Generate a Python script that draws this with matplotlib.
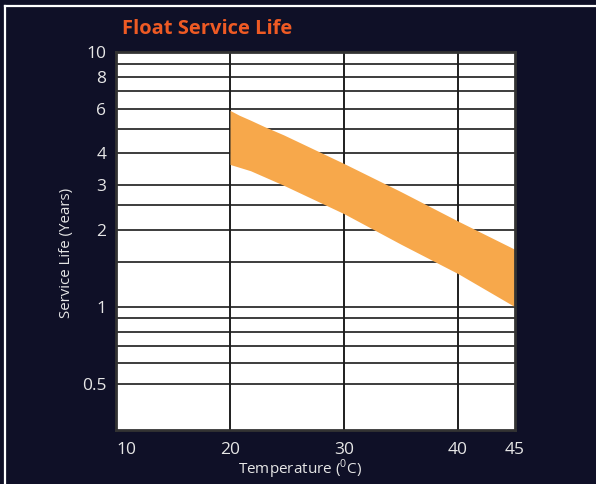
import matplotlib
matplotlib.use("Agg")
import matplotlib.pyplot as plt
from matplotlib.lines import Line2D

# Data
temps = [20, 20.8, 21.8, 23.0, 24.7, 30, 35, 40, 45]
life_upper = [5.9, 5.65, 5.4, 5.1, 4.73, 3.65, 2.83, 2.17, 1.68]
life_lower = [3.62, 3.53, 3.42, 3.24, 3.0, 2.32, 1.76, 1.35, 1.0]

x_ticks = [10, 20, 30, 40, 45]
x_tick_labels = ["10", "20", "30", "40", "45"]
y_ticks = [0.5, 1, 2, 3, 4, 6, 8, 10]
y_tick_labels = ["0.5", "1", "2", "3", "4", "6", "8", "10"]
y_grid = [0.5, 0.6, 0.7, 0.8, 0.9, 1, 1.5, 2, 2.5, 3, 4, 5, 6, 7, 8, 9, 10]
x_grid = [20, 30, 40]

plt.rcParams['font.family'] = ['Open Sans', 'DejaVu Sans']
plt.rcParams['mathtext.fontset'] = 'custom'
plt.rcParams['mathtext.rm'] = 'Open Sans'

BG = '#0f1027'
fig = plt.figure(figsize=(5.96, 4.84), dpi=100, facecolor=BG)

# white frame lines (top and left)
fig.add_artist(Line2D([5/596, 1.0], [1 - 6/484, 1 - 6/484], color='white', lw=1.6,
                      transform=fig.transFigure))
fig.add_artist(Line2D([5/596, 5/596], [0.0, 1 - 6/484], color='white', lw=1.6,
                      transform=fig.transFigure))

ax = fig.add_axes([116/596, 1 - 430/484, 399/596, 378/484])
ax.set_facecolor('white')
ax.set_yscale('log')
ax.set_xlim(10, 45)
ax.set_ylim(0.3285, 10)

for v in y_grid:
    ax.axhline(v, color='#3c3c3c', lw=1.4, zorder=1)
for v in x_grid:
    ax.axvline(v, color='#1e1e1e', lw=1.4, zorder=1)

ax.fill_between(temps, life_lower, life_upper, color='#f7a84b', lw=0, zorder=2)

ax.set_xticks(x_ticks)
ax.set_xticklabels(x_tick_labels)
ax.set_yticks(y_ticks)
ax.set_yticklabels(y_tick_labels)
ax.minorticks_off()
ax.tick_params(axis='both', length=0, colors='#e6e6e6', labelsize=12.5)
ax.tick_params(axis='x', pad=9)
ax.tick_params(axis='y', pad=7)
lbls = ax.get_xticklabels()
lbls[0].set_horizontalalignment('left')

for s in ax.spines.values():
    s.set_color('#333333')
    s.set_linewidth(2)
    s.set_zorder(5)

ax.set_ylabel('Service Life (Years)', color='#e6e6e6', fontsize=10.8)
ax.yaxis.set_label_coords(-0.105, 0.468)
ax.set_xlabel(r'Temperature ($^{\mathrm{0}}$C)', color='#e6e6e6', fontsize=11)
ax.xaxis.set_label_coords(0.461, -0.072)

fig.text(122/596, 1 - 29/484, 'Float Service Life', color='#ee5a24', fontsize=14.5,
         fontweight='bold', ha='left', va='center')

fig.savefig('out.png', dpi=100, facecolor=BG)
